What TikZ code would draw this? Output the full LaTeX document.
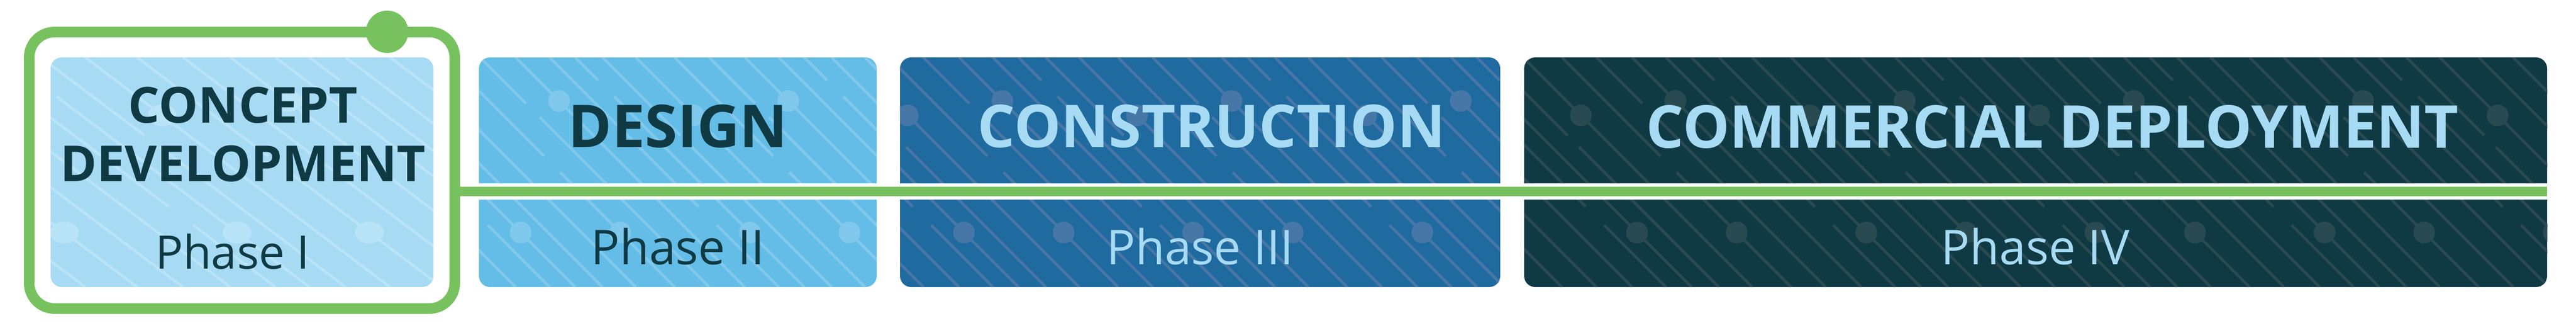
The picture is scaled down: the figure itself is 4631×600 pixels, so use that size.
\documentclass[tikz,border=0pt]{standalone}
\usepackage{fontspec}
\newfontfamily\os{Open Sans}
\definecolor{gr}{HTML}{77C25E}
\definecolor{dark}{HTML}{0F3A44}
\definecolor{lite}{HTML}{A7DBF4}
\definecolor{c1}{HTML}{A7DBF4}
\definecolor{c2}{HTML}{64BDE7}
\definecolor{c3}{HTML}{1F6A9F}
\definecolor{c4}{HTML}{0F3A44}
\definecolor{l1}{HTML}{B9E3F7}
\definecolor{l2}{HTML}{80C8EC}
\definecolor{l3}{HTML}{4677A7}
\definecolor{l4}{HTML}{2A4A51}
\tikzset{
  phasebox/.style={rounded corners=20pt, inner sep=0pt, draw=none},
  texline/.style={line width=5pt},
  title/.style={anchor=base, font=\os\bfseries\fontsize{106}{106}\selectfont},
  subtitle/.style={anchor=base, font=\os\fontsize{86}{86}\selectfont},
  greenline/.style={draw=gr, line width=17pt},
}
\newcommand\boxtexture[4]{%
 \foreach \k in {-2,...,5}{%
  \foreach \c/\ga/\gb in {-2/1/1, 68/0.43/0.5, 130/0.2/0.26, 194/1/1, 255/0.65/0.73, 301/0.1/0.17, 350/0.34/0.39}{%
   \pgfmathsetmacro\xo{#1+(#2)+#3*(\c+412*\k)}%
   \pgfmathsetmacro\xa{\xo+#3*412*\ga}%
   \pgfmathsetmacro\xb{\xo+#3*412*\gb}%
   \pgfmathsetmacro\xe{\xo+#3*412}%
   \pgfmathsetmacro\ya{103+412*\ga}%
   \pgfmathsetmacro\yb{103+412*\gb}%
   \draw[texline,#4] (\xo,103) -- (\xa,\ya);
   \draw[texline,#4] (\xb,\yb) -- (\xe,515);
  }%
  \pgfmathsetmacro\rx{19.5*#3}%
  \foreach \dx/\dy in {102/207, 272/181, 203/417, 382/417}{%
    \pgfmathsetmacro\xd{#1+(#2)+#3*(\dx+412*\k)}%
    \fill[#4] (\xd,\dy) ellipse [x radius=\rx pt, y radius=19.5pt];
  }%
 }}
\begin{document}
\begin{tikzpicture}[x=1pt,y=-1pt]
\useasboundingbox (0,0) rectangle (4631,600);
% phase boxes
\node[phasebox, fill=c1, minimum width=688pt, minimum height=412pt] (p1) at (435,309) {};
\node[phasebox, fill=c2, minimum width=715pt, minimum height=412pt] (p2) at (1218.5,309) {};
\node[phasebox, fill=c3, minimum width=1079pt, minimum height=412pt] (p3) at (2157.5,309) {};
\node[phasebox, fill=c4, minimum width=1839pt, minimum height=412pt] (p4) at (3659.5,309) {};
% textures
\begin{scope}
\clip[rounded corners=20pt] (p1.north west) rectangle (p1.south east);
\boxtexture{91}{65}{1.33}{l1}
\end{scope}
\begin{scope}
\clip[rounded corners=20pt] (p2.north west) rectangle (p2.south east);
\boxtexture{861}{-128}{1}{l2}
\end{scope}
\begin{scope}
\clip[rounded corners=20pt] (p3.north west) rectangle (p3.south east);
\boxtexture{1618}{-88}{1}{l3}
\end{scope}
\begin{scope}
\clip[rounded corners=20pt] (p4.north west) rectangle (p4.south east);
\boxtexture{2740}{0}{1}{l4}
\end{scope}
% white band and timeline
\fill[white] (835,329) rectangle (4631,358);
\node[draw=gr, line width=19pt, rounded corners=45.5pt, minimum width=765pt, minimum height=496pt, inner sep=0pt] (frame) at (435,305.5) {};
\coordinate (band) at (0,343.5);
\draw[greenline] (frame.east |- band) -- (p4.east |- band);
\node[circle, fill=gr, minimum size=76pt, inner sep=0pt] (dot) at (696,57) {};
% texts
\node[title, text=dark, font=\os\bfseries\fontsize{89}{89}\selectfont] (t1a) at (437,220) {CONCEPT};
\node[title, text=dark, font=\os\bfseries\fontsize{89}{89}\selectfont] (t1b) at (437,325) {DEVELOPMENT};
\node[subtitle, text=dark, font=\os\fontsize{83}{83}\selectfont] (s1) at (418,482) {Phase I};
\node[title, text=dark] (t2) at (1219,264) {DESIGN};
\node[subtitle, text=dark] (s2) at (1218.5,474) {Phase II};
\node[title, text=lite] (t3) at (2178,264) {CONSTRUCTION};
\node[subtitle, text=lite] (s3) at (2157.5,474) {Phase III};
\node[title, text=lite] (t4) at (3690,265) {COMMERCIAL DEPLOYMENT};
\node[subtitle, text=lite] (s4) at (3659.5,474) {Phase IV};
\end{tikzpicture}
\end{document}
